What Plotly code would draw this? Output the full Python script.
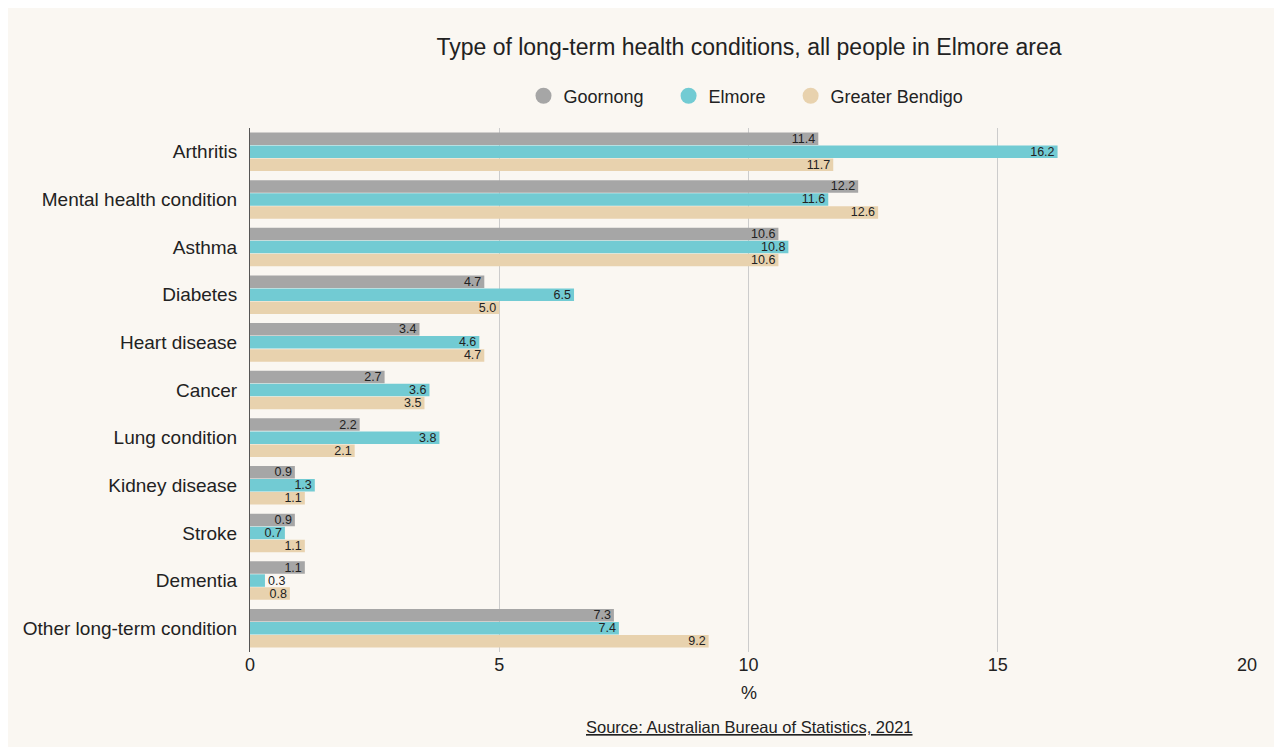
import plotly.graph_objects as go

CONDITIONS = ["Arthritis", "Mental health condition", "Asthma", "Diabetes", "Heart disease",
              "Cancer", "Lung condition", "Kidney disease", "Stroke", "Dementia",
              "Other long-term condition"]
GOORNONG = [11.4, 12.2, 10.6, 4.7, 3.4, 2.7, 2.2, 0.9, 0.9, 1.1, 7.3]
ELMORE = [16.2, 11.6, 10.8, 6.5, 4.6, 3.6, 3.8, 1.3, 0.7, 0.3, 7.4]
GREATER_BENDIGO = [11.7, 12.6, 10.6, 5.0, 4.7, 3.5, 2.1, 1.1, 1.1, 0.8, 9.2]
X_TICKS = [0, 5, 10, 15, 20]

SERIES = [("Goornong", GOORNONG, "#a6a6a6"),
          ("Elmore", ELMORE, "#72cbd3"),
          ("Greater Bendigo", GREATER_BENDIGO, "#e8d2ae")]

FONT = "Liberation Sans, Arial, sans-serif"
TEXT_COLOR = "#222222"
LEGEND_PAD = "\u00a0" * 4  # extra room between legend entries


def create_graph():
    """Build the grouped horizontal bar chart."""
    fig = go.Figure()
    for i, (name, values, color) in enumerate(SERIES):
        # small bars get their label outside
        positions = ["inside" if v >= 0.5 else "outside" for v in values]
        fig.add_trace(go.Bar(
            y=CONDITIONS, x=values, name=name, orientation="h",
            marker=dict(color=color, line=dict(width=0)),
            text=[f"{v:.1f}" for v in values], textposition=positions,
            insidetextanchor="end", textangle=0, cliponaxis=False,
            textfont=dict(size=12.5, color=TEXT_COLOR, family=FONT),
            showlegend=False,
        ))
        # legend entry with a round marker
        label = name if i == len(SERIES) - 1 else name + LEGEND_PAD
        fig.add_trace(go.Scatter(
            x=[None], y=[None], mode="markers", name=label,
            marker=dict(color=color, size=20, symbol="circle"),
        ))

    fig.update_layout(
        barmode="group", bargap=0.18, bargroupgap=0.04,
        width=1266, height=739,
        paper_bgcolor="#faf7f2", plot_bgcolor="#faf7f2",
        font=dict(family=FONT, size=18, color=TEXT_COLOR),
        margin=dict(l=242, r=26, t=120, b=95),
        title=dict(text="Type of long-term health conditions, all people in Elmore area",
                   xref="paper", x=0.5, xanchor="center", y=0.947, yanchor="middle",
                   font=dict(size=23, color=TEXT_COLOR)),
        legend=dict(orientation="h", x=0.497, xanchor="center", y=1.061, yanchor="middle",
                    font=dict(size=18), traceorder="normal",
                    bgcolor="rgba(0,0,0,0)"),
        uniformtext=dict(minsize=12, mode="show"),
        annotations=[dict(text="<u>Source: Australian Bureau of Statistics, 2021</u>",
                          x=0.5, xref="paper", xanchor="center",
                          y=-0.143, yref="paper", yanchor="middle",
                          showarrow=False, font=dict(size=16.5, color=TEXT_COLOR))],
    )
    fig.update_xaxes(range=[0, 20.02], tickvals=X_TICKS, showgrid=True,
                     gridcolor="#cccccc", gridwidth=1, zeroline=False,
                     title=dict(text="%", font=dict(size=18), standoff=12),
                     tickfont=dict(size=18), ticks="", fixedrange=True)
    fig.update_yaxes(autorange="reversed", showline=True, linecolor="#555555",
                     linewidth=1, ticks="", tickfont=dict(size=19),
                     ticklabelstandoff=8, fixedrange=True)
    return fig


fig = create_graph()
fig.write_html("out.html")
